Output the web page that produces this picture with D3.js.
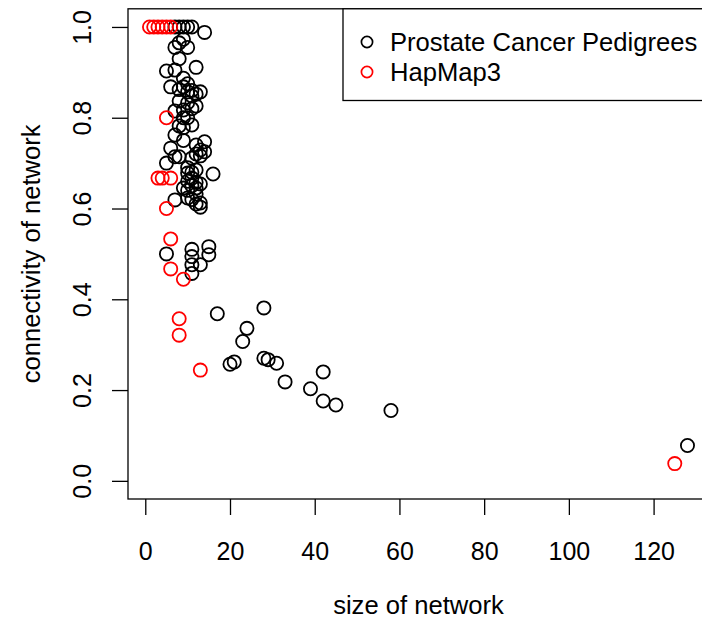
<!DOCTYPE html>
<html>
<head>
<meta charset="utf-8">
<script src="https://cdn.jsdelivr.net/npm/d3@7"></script>
<style>
  body { margin: 0; background: #fff; }
  text { font-family: "Liberation Sans", Arial, Helvetica, sans-serif; fill: #000; }
</style>
</head>
<body>
<svg id="chart" width="702" height="620"></svg>
<script>
// network size / connectivity for each pedigree network
var pedSize = [7, 8, 9, 10, 11, 14,
    9, 8, 7, 10, 8,
    5, 7, 12, 9, 10,
    6, 8, 9, 10, 11, 12, 13, 11,
    8, 10, 11, 7, 9, 12,
    9, 10, 11, 9, 8,
    7, 9, 14, 12, 6, 13, 14, 13, 7, 8, 11, 12,
    5, 10, 11, 12, 10, 16, 11, 10, 12, 13, 11, 9, 12, 12, 10,
    7, 10, 11, 13, 13, 12,
    5, 11, 11, 11, 11, 13, 15, 15,
    17, 28, 24, 23, 20, 21, 28, 29, 31, 33, 42, 39, 42, 45, 58, 128];
var pedConn = [1, 1, 1, 1, 1, 0.988,
    0.973, 0.965, 0.955, 0.955, 0.93,
    0.903, 0.905, 0.911, 0.887, 0.875,
    0.868, 0.862, 0.868, 0.857, 0.86, 0.852, 0.857, 0.848,
    0.837, 0.833, 0.82, 0.815, 0.817, 0.826,
    0.8, 0.8, 0.784, 0.778, 0.782,
    0.762, 0.75, 0.747, 0.74, 0.733, 0.729, 0.725, 0.716, 0.714, 0.714, 0.711, 0.72,
    0.7, 0.69, 0.68, 0.685, 0.678, 0.676, 0.667, 0.66, 0.658, 0.654, 0.65, 0.645, 0.645, 0.632, 0.64,
    0.619, 0.623, 0.62, 0.612, 0.603, 0.61,
    0.5, 0.51, 0.494, 0.476, 0.457, 0.476, 0.516, 0.498,
    0.368, 0.381, 0.336, 0.307, 0.257, 0.262, 0.27, 0.267, 0.259, 0.218, 0.24, 0.203, 0.176, 0.167, 0.155, 0.078];

var hapSize = [1, 2, 3, 4, 5, 6, 5, 3, 4, 6, 5, 6, 6, 9, 8, 8, 13, 125];
var hapConn = [1, 1, 1, 1, 1, 1, 0.8, 0.667, 0.667, 0.667, 0.6, 0.533, 0.467, 0.444, 0.357, 0.321, 0.244, 0.038];

var xTicks = [0, 20, 40, 60, 80, 100, 120];
var yTicks = [0, 0.2, 0.4, 0.6, 0.8, 1.0];
var seriesNames = ['Prostate Cancer Pedigrees', 'HapMap3'];
var seriesColors = ['#000000', '#ff0000'];

var svg = d3.select('#chart');
var box = {left: 128, right: 709, top: 8.8, bottom: 499};

var allSize = pedSize.concat(hapSize);
var xMin = d3.min(allSize), xMax = d3.max(allSize);
var xPad = (xMax - xMin) * 0.04;
var x = d3.scaleLinear().domain([xMin - xPad, xMax + xPad]).range([box.left, box.right]);
// y limits fixed at 0..1, R style 4% padding
var y = d3.scaleLinear().domain([-0.04, 1.04]).range([box.bottom, box.top]);

var tickFont = 25;
var labFont = 25.6;

var gx = svg.append('g')
    .attr('transform', `translate(0,${box.bottom})`)
    .call(d3.axisBottom(x).tickValues(xTicks).tickSize(16).tickSizeOuter(0).tickFormat(d3.format('d')));
gx.select('.domain').remove();
gx.selectAll('line').attr('stroke', '#000').attr('stroke-width', 1.3);
gx.selectAll('text').attr('y', 52).attr('dy', '0.35em')
    .style('font-size', tickFont + 'px');

var gy = svg.append('g')
    .attr('transform', `translate(${box.left},0)`)
    .call(d3.axisLeft(y).tickValues(yTicks).tickSize(16).tickSizeOuter(0).tickFormat(d3.format('.1f')));
gy.select('.domain').remove();
gy.selectAll('line').attr('stroke', '#000').attr('stroke-width', 1.3);
gy.selectAll('text')
    .attr('x', 0).attr('dy', '0.35em')
    .attr('transform', 'translate(-46,0) rotate(-90)')
    .attr('text-anchor', 'middle')
    .style('font-size', tickFont + 'px');

// plot frame
svg.append('rect')
    .attr('x', box.left).attr('y', box.top)
    .attr('width', box.right - box.left).attr('height', box.bottom - box.top)
    .attr('fill', 'none').attr('stroke', '#000').attr('stroke-width', 1.3);

var pedData = pedSize.map((d, i) => ({size: d, conn: pedConn[i]}));
var hapData = hapSize.map((d, i) => ({size: d, conn: hapConn[i]}));

var pts = svg.append('g');
[pedData, hapData].forEach((data, k) => {
    pts.selectAll('.s' + k).data(data).enter().append('circle')
        .attr('class', 's' + k)
        .attr('cx', d => x(d.size))
        .attr('cy', d => y(d.conn))
        .attr('r', 6.6)
        .attr('fill', 'none')
        .attr('stroke', seriesColors[k])
        .attr('stroke-width', 1.8);
});

svg.append('text').text('size of network')
    .attr('x', (box.left + box.right) / 2)
    .attr('y', 605).attr('dy', '0.35em')
    .attr('text-anchor', 'middle')
    .style('font-size', labFont + 'px');

svg.append('text').text('connectivity of network')
    .attr('transform', `translate(31,${(box.top + box.bottom) / 2}) rotate(-90)`)
    .attr('dy', '0.35em')
    .attr('text-anchor', 'middle')
    .style('font-size', labFont + 'px');

// legend, top right corner of the plot
var legend = svg.append('g');
legend.append('rect')
    .attr('x', 343).attr('y', box.top)
    .attr('width', box.right - 343).attr('height', 100.5 - box.top)
    .attr('fill', '#fff').attr('stroke', '#000').attr('stroke-width', 1.3);
seriesNames.forEach((name, i) => {
    var ly = 42 + i * 30;
    legend.append('circle')
        .attr('cx', 367).attr('cy', ly).attr('r', 5.6)
        .attr('fill', 'none').attr('stroke', seriesColors[i]).attr('stroke-width', 1.7);
    legend.append('text').text(name)
        .attr('x', 390).attr('y', ly).attr('dy', '0.35em')
        .style('font-size', labFont + 'px');
});
</script>
</body>
</html>
